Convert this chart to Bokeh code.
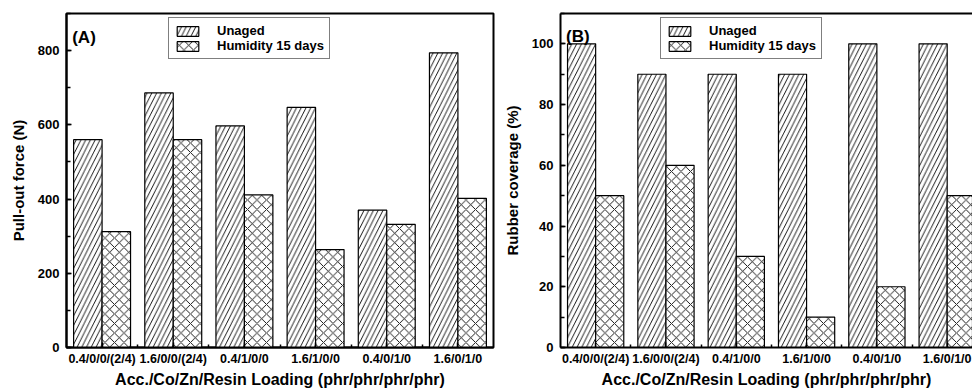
from bokeh.plotting import figure
from bokeh.models import (ColumnDataSource, FixedTicker, SingleIntervalTicker, Legend,
                          LegendItem, Label, LinearAxis, Range1d, Title)
from bokeh.layouts import row
from bokeh.transform import dodge
from bokeh.embed import file_html
from bokeh.resources import INLINE

categories = ["0.4/0/0/(2/4)", "1.6/0/0/(2/4)", "0.4/1/0/0", "1.6/1/0/0", "0.4/0/1/0", "1.6/0/1/0"]
pullout_unaged = [560, 686, 597, 647, 370, 794]
pullout_humidity = [312, 560, 411, 264, 332, 402]
coverage_unaged = [100, 90, 90, 90, 100, 100]
coverage_humidity = [50, 60, 30, 10, 20, 50]
series_names = ["Unaged", "Humidity 15 days"]
x_title = "Acc./Co/Zn/Resin Loading (phr/phr/phr/phr)"

FONT = "Liberation Sans"
idx = list(range(len(categories)))
FIG_H = 388
TOP = 13
FRAME_H = 334


def make_panel(unaged, humidity, ylabel, panel, y_end, y_interval, x_end,
               width, left, right, legend_x, panel_y, full_frame, title_offset):
    src = ColumnDataSource(dict(x=idx, unaged=unaged, humidity=humidity))
    p = figure(width=width, height=FIG_H, output_backend="svg", toolbar_location=None,
               x_range=Range1d(-0.5, x_end), y_range=Range1d(0, y_end),
               min_border_left=left, min_border_right=right,
               min_border_top=TOP, min_border_bottom=FIG_H - TOP - FRAME_H,
               background_fill_color="white", border_fill_color="white")
    p.grid.visible = False
    xa = p.below[0]
    ya = p.left[0]
    if full_frame:
        p.outline_line_color = "black"
        p.outline_line_width = 2
    else:
        p.outline_line_color = None
        top = LinearAxis(major_tick_out=0, major_tick_in=0, minor_tick_out=0, minor_tick_in=0,
                         major_label_text_font_size="0px", axis_line_width=2,
                         axis_line_color="black", major_label_standoff=0)
        top.ticker = FixedTicker(ticks=[])
        p.add_layout(top, "above")

    r1 = p.vbar(x=dodge("x", -0.2, range=p.x_range), top="unaged", width=0.4, source=src,
                fill_color="white", line_color="black", line_width=1.2,
                hatch_pattern="/", hatch_color="black", hatch_scale=9.5, hatch_weight=0.9)
    r2 = p.vbar(x=dodge("x", 0.2, range=p.x_range), top="humidity", width=0.4, source=src,
                fill_color="white", line_color="black", line_width=1.2,
                hatch_pattern="x", hatch_color="black", hatch_scale=9.5, hatch_weight=0.9)

    xa.ticker = FixedTicker(ticks=idx, minor_ticks=[i + 0.5 for i in idx[:-1]])
    xa.major_label_overrides = {i: c for i, c in enumerate(categories)}
    ya.ticker = SingleIntervalTicker(interval=y_interval, num_minor_ticks=2)
    ya.axis_label = ylabel
    for ax in (xa, ya):
        ax.axis_line_width = 2
        ax.axis_line_color = "black"
        ax.major_tick_in = 5
        ax.major_tick_out = 0
        ax.minor_tick_in = 4
        ax.minor_tick_out = 0
        ax.major_tick_line_width = 1.5
        ax.minor_tick_line_width = 1.5
        ax.major_tick_line_color = "black"
        ax.minor_tick_line_color = "black"
        ax.major_label_text_font = FONT
        ax.major_label_text_font_style = "bold"
        ax.major_label_text_color = "black"
        ax.axis_label_text_font = FONT
        ax.axis_label_text_font_style = "bold"
        ax.axis_label_text_color = "black"
    xa.major_label_text_font_size = "12.5px"
    xa.major_label_standoff = 4
    xa.minor_tick_in = 3
    ya.major_label_text_font_size = "13px"
    ya.major_label_standoff = 7
    ya.axis_label_text_font_size = "15px"
    ya.axis_label_standoff = 8

    legend = Legend(items=[LegendItem(label=series_names[0], renderers=[r1]),
                           LegendItem(label=series_names[1], renderers=[r2])],
                    location=(legend_x, FRAME_H - 5 - 41), orientation="vertical",
                    border_line_color="black", border_line_width=1.5,
                    background_fill_color="white", background_fill_alpha=1,
                    label_text_font=FONT, label_text_font_style="bold",
                    label_text_font_size="13px", label_text_color="black",
                    glyph_width=27, glyph_height=12, label_standoff=16,
                    padding=5, spacing=0, label_height=12, margin=0)
    p.add_layout(legend)

    p.add_layout(Label(x=-0.42, y=panel_y, text=panel, text_font=FONT,
                       text_font_style="bold", text_font_size="17px",
                       text_baseline="top", text_color="black"))
    p.add_layout(Title(text=x_title, align="center", offset=title_offset, standoff=0,
                       text_font=FONT, text_font_style="bold", text_font_size="16px",
                       text_color="black"), "below")
    return p


pa = make_panel(pullout_unaged, pullout_humidity, "Pull-out force (N)", "(A)",
                900, 200, 5.5, 500, 66, 7, 102, 862, True, 0)
pb = make_panel(coverage_unaged, coverage_humidity, "Rubber coverage (%)", "(B)",
                110, 20, 5.36, 472, 56, 0, 100, 105.7, False, 5)

layout = row(pa, pb)
open("out.html", "w").write(file_html(layout, INLINE))
